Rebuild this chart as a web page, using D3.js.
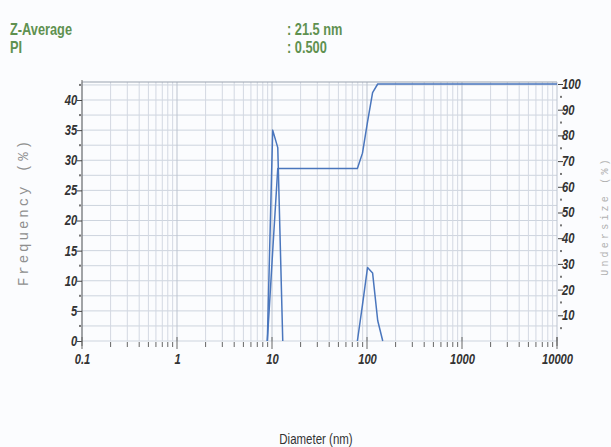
<!DOCTYPE html>
<html>
<head>
<meta charset="utf-8">
<script src="https://cdn.jsdelivr.net/npm/d3@7"></script>
<style>
	body { margin: 0; background: #fbfcfe; }
	svg { display: block; }
</style>
</head>
<body>
<svg id="chart" width="611" height="447"></svg>
<script>
// size distribution by intensity, frequency + cumulative undersize

var header_labels = ['Z-Average', 'PI'];
var header_values = [': 21.5 nm', ': 0.500'];

// diameter (nm) of each size class
var peak1_size = [8.93, 10.17, 11.5, 12.98];
var peak1_freq = [0, 35.0, 32.1, 0];
var peak2_size = [79.2, 89.6, 101.3, 114.5, 129.6, 146.5];
var peak2_freq = [0, 6.0, 12.2, 11.3, 3.4, 0];

// cumulative undersize (%)
var cum_size = [8.93, 10.17, 11.5, 79.2, 89.6, 101.3, 114.5, 129.6, 146.5, 10000];
var cum_val = [0, 35.0, 67.1, 67.1, 73.1, 85.3, 96.6, 100, 100, 100];

var x_ticks = [0.1, 1, 10, 100, 1000, 10000];
var y_ticks = [0, 5, 10, 15, 20, 25, 30, 35, 40];
var y2_ticks = [10, 20, 30, 40, 50, 60, 70, 80, 90, 100];

var conf = {left: 82, right: 557, top: 82, bottom: 341};
var svg = d3.select('#chart');
var narrow = 'Liberation Sans, Arial, sans-serif';

var x_scale = d3.scaleLog().domain([0.1, 10000]).range([conf.left, conf.right]);
var y_scale = d3.scaleLinear().domain([0, 40]).range([conf.bottom, 100]);
var y2_scale = d3.scaleLinear().domain([0, 100]).range([conf.bottom, 84]);

// squeeze text horizontally, the source font is a narrow one
function condensed(sel, sx) {
	sel.attr('transform', 'scale(' + sx + ',1)');
}

// header text
var head = svg.append('g').attr('font-family', narrow)
	.attr('font-weight', 'bold').attr('font-size', 16).attr('fill', '#5f9150');
head.selectAll('g.lab').data(header_labels).enter().append('g')
	.attr('transform', function (d, i) {return 'translate(10,' + (35 + i*18) + ') scale(0.8,1)';})
	.append('text').text(function (d) {return d;});
head.selectAll('g.val').data(header_values).enter().append('g')
	.attr('transform', function (d, i) {return 'translate(287,' + (35 + i*18) + ') scale(0.8,1)';})
	.append('text').text(function (d) {return d;});

// grid
var grid = svg.append('g');
var minor_x = [];
for (var e = -1; e < 4; e++)
	for (var m = 1; m < 10; m++) minor_x.push(m*Math.pow(10, e));
minor_x.push(10000);

var h_lines = d3.range(0, 43, 2.5);
grid.selectAll('line.h').data(h_lines).enter().append('line')
	.attr('x1', conf.left).attr('x2', conf.right)
	.attr('y1', function (d) {return y_scale(d);}).attr('y2', function (d) {return y_scale(d);})
	.attr('stroke', '#cdd4de').attr('stroke-width', 1);
grid.selectAll('line.v').data(minor_x).enter().append('line')
	.attr('x1', function (d) {return x_scale(d);}).attr('x2', function (d) {return x_scale(d);})
	.attr('y1', conf.top).attr('y2', conf.bottom)
	.attr('stroke', function (d) {return x_ticks.indexOf(d) >= 0 ? '#bcc3cf' : '#d3d8e2';})
	.attr('stroke-width', 1);

// frame
svg.append('line').attr('x1', conf.left).attr('x2', conf.right).attr('y1', conf.top).attr('y2', conf.top)
	.attr('stroke', '#9aa2ae').attr('stroke-width', 1.2);
svg.append('line').attr('x1', conf.left).attr('x2', conf.left).attr('y1', conf.top - 2).attr('y2', conf.bottom + 5)
	.attr('stroke', '#666').attr('stroke-width', 1);
svg.append('line').attr('x1', conf.right).attr('x2', conf.right).attr('y1', conf.bottom - 4).attr('y2', conf.bottom + 5)
	.attr('stroke', '#666').attr('stroke-width', 1);

function styleTicks(g) {
	g.select('.domain').remove();
	g.selectAll('.tick line').attr('stroke', '#444');
	g.selectAll('text').attr('font-family', narrow).attr('font-style', 'italic')
		.attr('font-weight', 'bold').attr('font-size', 14).attr('fill', '#333')
		.call(condensed, 0.8);
}

// left axis
var y_axis = d3.axisLeft(y_scale).tickValues(y_ticks).tickSize(5).tickPadding(1);
var gy = svg.append('g').attr('transform', 'translate(' + conf.left + ',0)').call(y_axis);
styleTicks(gy);
svg.selectAll('rect.ly').data(d3.range(2.5, 43, 5)).enter().append('rect')
	.attr('x', conf.left - 3).attr('y', function (d) {return y_scale(d) - 1;})
	.attr('width', 2).attr('height', 2).attr('fill', '#777');

// right axis
var y2_axis = d3.axisRight(y2_scale).tickValues(y2_ticks).tickSize(5).tickPadding(0);
var gy2 = svg.append('g').attr('transform', 'translate(' + (conf.right + 1) + ',0)').call(y2_axis);
styleTicks(gy2);
svg.selectAll('rect.ry').data(d3.range(5, 100, 10)).enter().append('rect')
	.attr('x', conf.right + 3).attr('y', function (d) {return y2_scale(d) - 1;})
	.attr('width', 2).attr('height', 2).attr('fill', '#777');

// bottom axis: ticks only, no base line
var x_axis = d3.axisBottom(x_scale).tickValues(x_ticks).tickSize(0).tickPadding(13)
	.tickFormat(function (d) {return String(d);});
var gx = svg.append('g').attr('transform', 'translate(0,' + conf.bottom + ')').call(x_axis);
styleTicks(gx);
svg.selectAll('line.xt').data(minor_x).enter().append('line')
	.attr('x1', function (d) {return x_scale(d);}).attr('x2', function (d) {return x_scale(d);})
	.attr('y1', function (d) {return x_ticks.indexOf(d) >= 0 ? conf.bottom - 4 : conf.bottom + 1;})
	.attr('y2', function (d) {return x_ticks.indexOf(d) >= 0 ? conf.bottom + 8 : conf.bottom + 6;})
	.attr('stroke', '#666').attr('stroke-width', 1);

// axis titles
svg.append('text').attr('transform', 'translate(28,212) rotate(-90)').attr('text-anchor', 'middle')
	.attr('font-family', 'Liberation Mono, Courier New, monospace').attr('font-size', 14)
	.attr('letter-spacing', 3.0).attr('fill', '#8f8f8f').text('Frequency (%)');
svg.append('text').attr('transform', 'translate(608,216) rotate(-90)').attr('text-anchor', 'middle')
	.attr('font-family', 'Liberation Mono, Courier New, monospace').attr('font-size', 10)
	.attr('letter-spacing', 3.2).attr('fill', '#b0b0b0').text('Undersize (%)');
svg.append('g').attr('transform', 'translate(316,444) scale(0.82,1)')
	.append('text').attr('text-anchor', 'middle')
	.attr('font-family', narrow).attr('font-size', 14).attr('fill', '#333').text('Diameter (nm)');

// curves
var freq_line = d3.line().x(function (d) {return x_scale(d[0]);}).y(function (d) {return y_scale(d[1]);});
var cum_line = d3.line().x(function (d) {return x_scale(d[0]);}).y(function (d) {return y2_scale(d[1]);});
var curves = svg.append('g').attr('fill', 'none').attr('stroke', '#4a76bd').attr('stroke-width', 1.5)
	.attr('stroke-linejoin', 'round');
curves.append('path').attr('d', freq_line(d3.zip(peak1_size, peak1_freq)));
curves.append('path').attr('d', freq_line(d3.zip(peak2_size, peak2_freq)));
curves.append('path').attr('d', cum_line(d3.zip(cum_size, cum_val)));
</script>
</body>
</html>
